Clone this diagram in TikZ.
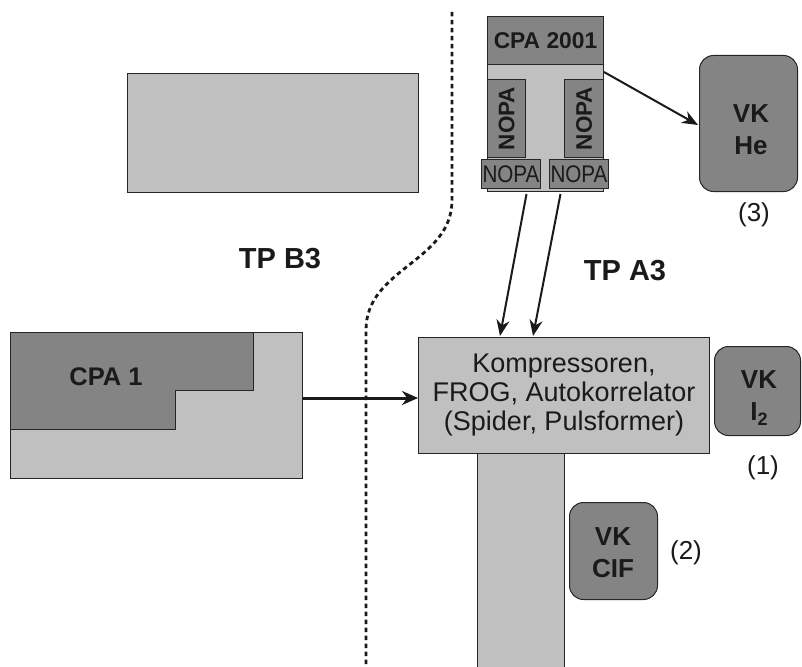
\documentclass[tikz,border=0pt]{standalone}
\usepackage{fontspec}
\setmainfont{Liberation Sans}
\usetikzlibrary{calc,arrows.meta}
\definecolor{lgray}{HTML}{C0C0C0}
\definecolor{dgray}{HTML}{848484}
\definecolor{edgec}{HTML}{262626}
\definecolor{ink}{HTML}{1A1A1A}
\begin{document}
\begin{tikzpicture}[x=1pt,y=-1pt,
  lbox/.style={draw=edgec,line width=1pt,fill=lgray,inner sep=0pt,anchor=north west},
  dbox/.style={draw=edgec,line width=1pt,fill=dgray,inner sep=0pt,anchor=north west},
  vkbox/.style={dbox,rounded corners=14pt},
  arr/.style={-{Stealth[length=16pt,width=13pt]},line width=2pt,draw=ink},
  bigarr/.style={arr,line width=3pt,-{Stealth[length=16pt,width=14pt]}},
  tplab/.style={font=\fontsize{29}{32}\selectfont\bfseries,text=ink,inner sep=0pt},
  vklab/.style={font=\fontsize{26}{32}\selectfont\bfseries,text=ink,align=center,inner sep=0pt},
  numlab/.style={font=\fontsize{26}{30}\selectfont,text=ink,inner sep=0pt},
  boundary/.style={draw=ink,line width=2.8pt,dash pattern=on 4.5pt off 3.5pt}
]
\useasboundingbox (0,0) rectangle (802,666);

% boundary line between TP B3 and TP A3
\coordinate (btop) at (452,12);
\coordinate (bbend) at (452,200);
\coordinate (bknee) at (366,330);
\coordinate (bbot) at (366,666);
\draw[boundary] (btop) -- (bbend) .. controls (452,262) and (366,268) .. (bknee) -- (bbot);

% top-left empty table
\node[lbox,minimum width=291pt,minimum height=119pt] (tl) at (127,73) {};

% labels
\node[tplab] (tpb3) at (280,259) {TP B3};
\node[tplab] (tpa3) at (625,271) {TP A3};

% CPA 1
\node[lbox,minimum width=292pt,minimum height=146pt] (cpa1box) at (10,332) {};
\draw[draw=edgec,line width=1pt,fill=dgray] (10,332) -- (253,332) -- (253,390) -- (175,390) -- (175,429) -- (10,429) -- cycle;
\node[font=\fontsize{25.5}{28}\selectfont\bfseries,text=ink,inner sep=0pt] (cpa1lab) at (106,377) {CPA 1};

% CPA 2001 stack
\node[lbox,minimum width=116pt,minimum height=127pt] (body) at (487,64) {};
\node[dbox,minimum width=116pt,minimum height=48pt,font=\fontsize{22.8}{26}\selectfont\bfseries,text=ink] (cpa2001) at (487,16) {CPA 2001};
\node[dbox,minimum width=38pt,minimum height=78pt] (nopavl) at (487,79) {};
\node[dbox,minimum width=39pt,minimum height=78pt] (nopavr) at (564,79) {};
\node[rotate=90,font=\fontsize{22.5}{24}\selectfont\bfseries,text=ink,inner sep=0pt] (nopavltext) at (nopavl.center) {NOPA};
\node[rotate=90,font=\fontsize{22.5}{24}\selectfont\bfseries,text=ink,inner sep=0pt] (nopavrtext) at (nopavr.center) {NOPA};
\node[dbox,minimum width=59pt,minimum height=29pt] (nopal) at (481,159) {};
\node[dbox,minimum width=59pt,minimum height=29pt] (nopar) at (549,159) {};
\node[font=\fontsize{24}{24}\selectfont,text=ink,inner sep=0pt,xscale=0.86] (nopaltext) at (nopal.center) {NOPA};
\node[font=\fontsize{24}{24}\selectfont,text=ink,inner sep=0pt,xscale=0.86] (nopartext) at (nopar.center) {NOPA};

% VK He
\node[vkbox,minimum width=98pt,minimum height=136pt] (vkhe) at (699,55) {};
\node[vklab] (vkhetext) at (751,130) {VK\\He};
\node[numlab] (n3) at (754,215) {(3)};

% Kompressoren column + box
\node[lbox,minimum width=87pt,minimum height=220pt] (column) at (477,453) {};
\node[lbox,minimum width=291pt,minimum height=116pt,align=center,
      font=\fontsize{27}{29}\selectfont,text=ink] (komp) at (418,337)
      {Kompressoren,\\FROG, Autokorrelator\\(Spider, Pulsformer)};

% VK I2
\node[vkbox,minimum width=86pt,minimum height=89pt] (vki2) at (714,346) {};
\node[vklab] (vki2text) at (759,398) {VK\\I\raisebox{-5pt}{\fontsize{18}{18}\selectfont\bfseries 2}};
\node[numlab] (n1) at (763,468) {(1)};

% VK CIF
\node[vkbox,minimum width=88pt,minimum height=97pt] (vkcif) at (569,502) {};
\node[vklab] (vkciftext) at (613,553) {VK\\CIF};
\node[numlab] (n2) at (686,553) {(2)};

% connectors
\draw[arr] ($(body.north east)+(0,8)$) -- ($(vkhe.north west)+(-1,70)$);
\draw[arr] ($(nopal.south)+(15.5,5)$) -- ($(komp.north west)+(82,-1)$);
\draw[arr] ($(nopar.south)+(-18.5,5)$) -- ($(komp.north west)+(115,-1)$);
\draw[bigarr] (cpa1box.east |- 0,398) -- (komp.west |- 0,398);
\end{tikzpicture}
\end{document}
